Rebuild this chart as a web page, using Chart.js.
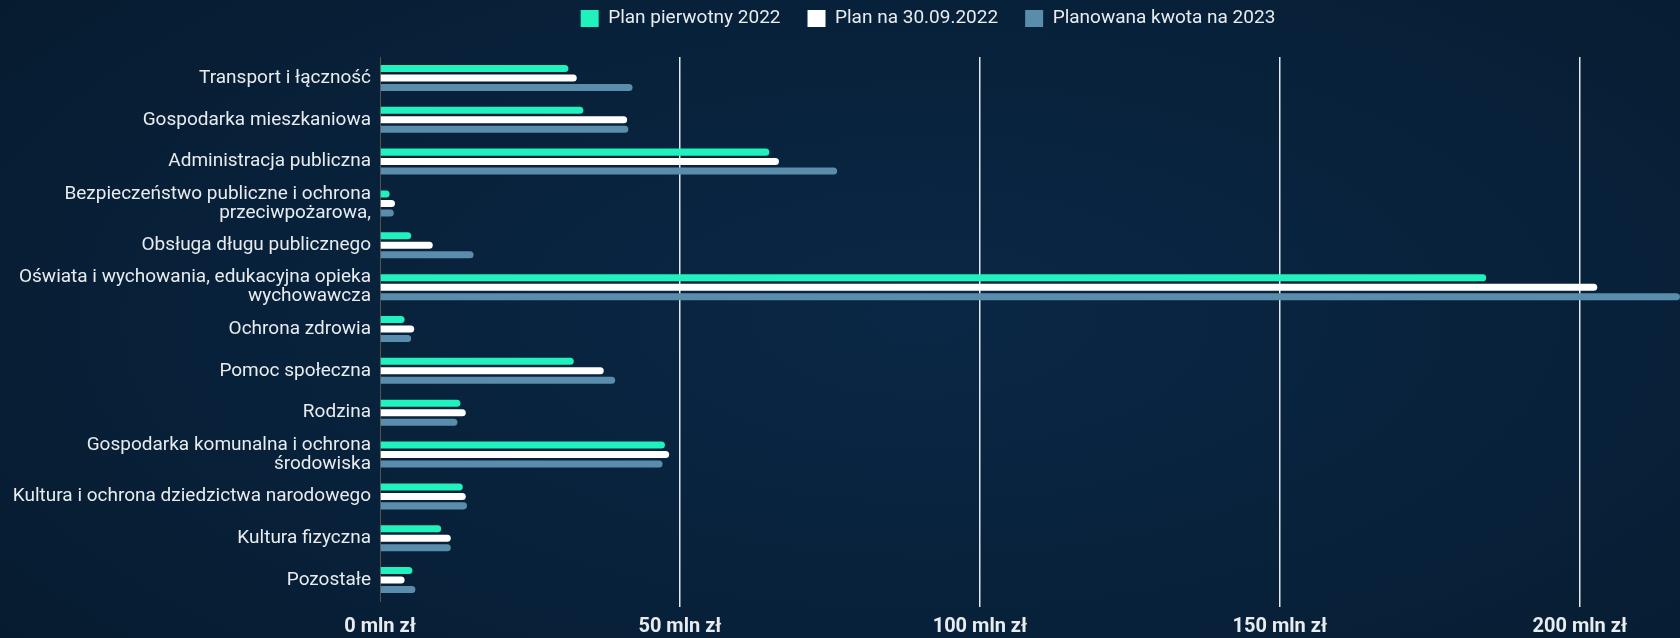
<!DOCTYPE html>
<html lang="pl">
<head>
<meta charset="utf-8">
<title>Wydatki budżetu</title>
<script src="https://cdn.jsdelivr.net/npm/chart.js@4/dist/chart.umd.min.js"></script>
<style>
  html, body {
    margin: 0;
    padding: 0;
    width: 1680px;
    height: 638px;
    overflow: hidden;
    background: radial-gradient(ellipse 75% 90% at 55% 50%, #0a2745 0%, #08213a 55%, #061a2d 100%);
  }
  .chart-wrap {
    position: relative;
    width: 1680px;
    height: 638px;
  }
</style>
</head>
<body>
<div class="chart-wrap">
  <canvas id="chart"></canvas>
</div>
<script>
// --- Data (mln zł) ---
const categories = [
  'Transport i łączność',
  'Gospodarka mieszkaniowa',
  'Administracja publiczna',
  ['Bezpieczeństwo publiczne i ochrona', 'przeciwpożarowa,'],
  'Obsługa długu publicznego',
  ['Oświata i wychowania, edukacyjna opieka', 'wychowawcza'],
  'Ochrona zdrowia',
  'Pomoc społeczna',
  'Rodzina',
  ['Gospodarka komunalna i ochrona', 'środowiska'],
  'Kultura i ochrona dziedzictwa narodowego',
  'Kultura fizyczna',
  'Pozostałe',
];

const seriesNames = ['Plan pierwotny 2022', 'Plan na 30.09.2022', 'Planowana kwota na 2023'];

const planPierwotny2022 = [31.4, 33.9, 64.9, 1.6, 5.2, 184.4, 4.1, 32.3, 13.4, 47.5, 13.8, 10.2, 5.4];
const planNa30092022   = [32.8, 41.2, 66.5, 2.5, 8.8, 202.9, 5.7, 37.3, 14.3, 48.2, 14.3, 11.8, 4.1];
const kwota2023        = [42.1, 41.4, 76.2, 2.3, 15.6, 216.7, 5.2, 39.2, 12.9, 47.1, 14.5, 11.8, 5.9];

// x axis ticks (mln zł)
const tickValues = [0, 50, 100, 150, 200];

// --- Colours ---
const GREEN = '#1ff2bd';
const WHITE = '#ffffff';
const STEEL = '#5a8dab';
const TEXT = '#e8ecef';

// Fix legend block height so the plot area starts where the reference does,
// and nudge the legend row right (the reference isn't centred on the canvas)
const legendPlacementPlugin = {
  id: 'legendPlacement',
  beforeInit(chart) {
    const originalFit = chart.legend.fit;
    chart.legend.fit = function fit() {
      originalFit.bind(chart.legend)();
      this.height = 75;
    };
  },
  afterLayout(chart) {
    chart.legend.left += 88;
    chart.legend.right += 88;
  },
};

function makeDataset(label, data, color) {
  return {
    label,
    data,
    backgroundColor: color,
    borderColor: color,
    borderWidth: 0,
    borderRadius: 4,
    barPercentage: 0.74,
    categoryPercentage: 0.68,
  };
}

new Chart(document.getElementById('chart'), {
  type: 'bar',
  data: {
    labels: categories,
    datasets: [
      makeDataset(seriesNames[0], planPierwotny2022, GREEN),
      makeDataset(seriesNames[1], planNa30092022, WHITE),
      makeDataset(seriesNames[2], kwota2023, STEEL),
    ],
  },
  options: {
    indexAxis: 'y',
    responsive: true,
    maintainAspectRatio: false,
    animation: false,
    layout: {
      padding: { top: -18, left: 0, right: 0, bottom: 0 },
    },
    plugins: {
      legend: {
        position: 'top',
        labels: {
          color: TEXT,
          boxWidth: 18,
          boxHeight: 17,
          padding: 27,
          font: { family: 'Roboto', size: 19, lineHeight: 1 },
        },
      },
      tooltip: { enabled: false },
    },
    scales: {
      x: {
        min: 0,
        max: Math.max(...kwota2023),
        afterBuildTicks(scale) {
          scale.ticks = tickValues.map((value) => ({ value }));
        },
        ticks: {
          color: TEXT,
          padding: 8,
          font: { family: 'Roboto', size: 20, weight: 'bold' },
          callback: (v) => v + ' mln zł',
        },
        grid: {
          color: (ctx) => (ctx.tick && ctx.tick.value === 0 ? 'rgba(0,0,0,0)' : '#e4e7ea'),
          lineWidth: 1.5,
          tickLength: 6,
        },
        border: { display: false },
        afterFit(scale) {
          scale.height = 37;
          scale.paddingRight = 0;
        },
      },
      y: {
        ticks: {
          color: TEXT,
          padding: 9,
          font: { family: 'Roboto', size: 19, lineHeight: 1 },
        },
        grid: { display: false, drawTicks: false },
        border: { color: 'rgba(110,95,80,0.8)', width: 1 },
        afterFit(scale) {
          scale.width = 380;
        },
      },
    },
  },
  plugins: [legendPlacementPlugin],
});
</script>
</body>
</html>
